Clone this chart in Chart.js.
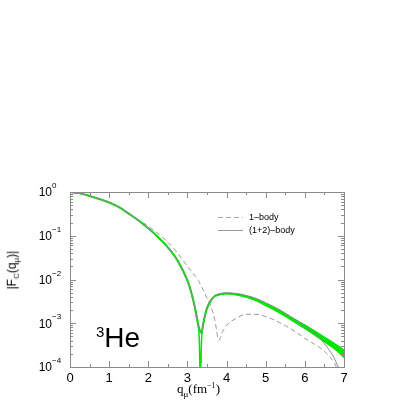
<!DOCTYPE html>
<html>
<head>
<meta charset="utf-8">
<script src="https://cdn.jsdelivr.net/npm/chart.js@4.4.0/dist/chart.umd.min.js"></script>
<style>
  body { margin: 0; background: #fff; }
  #wrap { position: relative; width: 415px; height: 415px; }
  .lbl { position: absolute; white-space: nowrap; color: #000; }
</style>
</head>
<body>
<div id="wrap">
  <canvas id="formFactor" width="415" height="415"></canvas>
  <div class="lbl" id="ytitle" style="left:-22px; top:262px; width:70px; text-align:center; font:12px 'Liberation Sans'; transform:rotate(-90deg);">|F<sub style="font-size:8px">C</sub>(q<sub style="font-size:8px">&mu;</sub>)|</div>
  <div class="lbl" style="left:177px; top:381px; font:13px 'Liberation Serif';">q<sub style="font-size:9px">&mu;</sub>(fm<sup style="font-size:8px">&minus;1</sup>)</div>
  <div class="lbl" style="left:96px; top:322px; font:28px 'Liberation Sans';"><sup style="font-size:15px">3</sup>He</div>
  <div class="lbl" style="left:249px; top:212px; font:9px 'Liberation Sans';">1&ndash;body</div>
  <div class="lbl" style="left:249px; top:225px; font:9px 'Liberation Sans';">(1+2)&ndash;body</div>
</div>
<script>
// q grid (fm^-1) shared by all curves
const qValues = [0, 0.25, 0.5, 0.75, 1, 1.25, 1.5, 1.75, 2, 2.25, 2.5, 2.75, 3, 3.1, 3.2, 3.25, 3.3, 3.33, 3.36, 3.4,
  3.5, 3.6, 3.7, 3.8, 3.9, 4, 4.25, 4.5, 4.75, 5, 5.25, 5.5, 5.75, 6, 6.25, 6.5, 6.75, 6.85, 7];

// 1-body (dashed)
const oneBody = [1.0, 0.93, 0.81, 0.69, 0.575, 0.45, 0.33, 0.235, 0.165, 0.112, 0.071, 0.040, 0.020, 0.0155, 0.0118, 0.0105, 0.009, 0.0076, 0.0068, 0.0059,
  0.0038, 0.0024, 0.0012, 0.00041, 0.00065, 0.0009, 0.0013, 0.0016, 0.0016, 0.00142, 0.00115, 0.00088, 0.00065, 0.00045, 0.00033, 0.00023, 0.000125, 0.00008, null];

// (1+2)-body (gray solid)
const twoBody = [1.0, 0.93, 0.81, 0.69, 0.575, 0.45, 0.32, 0.224, 0.148, 0.093, 0.054, 0.027, 0.0095, 0.005, 0.0021, 0.0012, 0.00076, 0.00065, 0.0006, 0.001,
  0.0023, 0.0034, 0.0043, 0.0047, 0.0049, 0.00495, 0.0048, 0.00435, 0.0037, 0.00295, 0.0023, 0.0017, 0.00122, 0.00086, 0.00059, 0.00034, 0.00016, 0.0001, null];

// green band, upper and lower edge
const bandHigh = [1.0, 0.93, 0.81, 0.69, 0.575, 0.45, 0.32, 0.224, 0.148, 0.093, 0.054, 0.027, 0.0095, 0.005, 0.0021, 0.0012, 0.00076, 0.00065, 0.0006, 0.00095,
  0.0022, 0.0033, 0.0042, 0.0045, 0.0047, 0.0048, 0.0046, 0.0041, 0.0035, 0.00275, 0.00215, 0.00162, 0.0012, 0.00089, 0.00065, 0.00047, 0.00034, 0.000295, 0.00024];
const bandLow = [1.0, 0.93, 0.81, 0.69, 0.575, 0.45, 0.32, 0.224, 0.148, 0.093, 0.054, 0.027, 0.0095, 0.005, 0.0021, 0.0012, null, null, null, null,
  0.0022, 0.0033, 0.0042, 0.0045, 0.0047, 0.0048, 0.0045, 0.00395, 0.0033, 0.00255, 0.00195, 0.00145, 0.00105, 0.00076, 0.00054, 0.00038, 0.000265, 0.000225, 0.000165];

// lower band edge through its zero near q = 3.33
const dipQ = [3.2, 3.25, 3.3, 3.33, 3.36, 3.4, 3.5];
const dipLow = [0.0021, 0.0012, 0.0005, 0.00005, 0.0004, 0.0009, 0.0022];

const xTicks = [0, 1, 2, 3, 4, 5, 6, 7];
const yTicks = [1, 1e-1, 1e-2, 1e-3, 1e-4];

const pts = (xs, arr) => xs.map((q, i) => ({ x: q, y: arr[i] }));

const GREEN = '#00e400';
const FRAME = '#8a8a8a';

// frame, inward ticks, y labels and legend samples
const framePlugin = {
    id: 'frame',
    afterDraw(chart) {
        const ctx = chart.ctx;
        const a = chart.chartArea;
        const xs = chart.scales.x, ys = chart.scales.y;
        ctx.save();
        ctx.strokeStyle = FRAME;
        ctx.lineWidth = 1;
        ctx.strokeRect(Math.round(a.left) + 0.5, Math.round(a.top) + 0.5, Math.round(a.right - a.left), Math.round(a.bottom - a.top));
        ctx.beginPath();
        // x ticks every 0.5, longer at integers
        for (let v = 0; v <= 7; v += 0.5) {
            const px = Math.round(xs.getPixelForValue(v)) + 0.5;
            const len = Number.isInteger(v) ? 6 : 3;
            ctx.moveTo(px, a.bottom); ctx.lineTo(px, a.bottom - len);
            ctx.moveTo(px, a.top); ctx.lineTo(px, a.top + len);
        }
        // log y ticks
        for (let d = -4; d <= 0; d++) {
            for (let m = 1; m <= 9; m++) {
                const v = m * Math.pow(10, d);
                if (v > 1) break;
                const py = Math.round(ys.getPixelForValue(v)) + 0.5;
                const len = m === 1 ? 6 : 3;
                ctx.moveTo(a.left, py); ctx.lineTo(a.left + len, py);
                ctx.moveTo(a.right, py); ctx.lineTo(a.right - len, py);
            }
        }
        ctx.stroke();

        // y tick labels 10^n
        ctx.fillStyle = '#000';
        ctx.textBaseline = 'middle';
        yTicks.forEach(v => {
            const py = ys.getPixelForValue(v);
            const exp = String(Math.round(Math.log10(v))).replace('-', '\u2212');
            ctx.font = "8px 'Liberation Sans'";
            ctx.textAlign = 'left';
            ctx.fillText(exp, 52, py - 6);
            ctx.font = "12px 'Liberation Sans'";
            ctx.textAlign = 'right';
            ctx.fillText('10', 52, py + 1);
        });

        // legend line samples
        ctx.strokeStyle = '#aaa';
        ctx.setLineDash([5, 3]);
        ctx.beginPath();
        ctx.moveTo(218, 217.5); ctx.lineTo(243, 217.5);
        ctx.stroke();
        ctx.setLineDash([]);
        ctx.strokeStyle = '#999';
        ctx.beginPath();
        ctx.moveTo(218, 230.5); ctx.lineTo(243, 230.5);
        ctx.stroke();
        ctx.restore();
    }
};

new Chart(document.getElementById('formFactor'), {
    type: 'line',
    data: {
        datasets: [
            { label: '(1+2)-body', data: pts(qValues, twoBody), borderColor: '#8c8c8c', borderWidth: 1, order: 1 },
            { label: '1-body', data: pts(qValues, oneBody), borderColor: '#9a9a9a', borderWidth: 1, borderDash: [5, 3], order: 2 },
            { label: 'band high', data: pts(qValues, bandHigh), borderColor: GREEN, borderWidth: 2, order: 3 },
            { label: 'band low', data: pts(qValues, bandLow), borderColor: GREEN, borderWidth: 1.5, fill: '-1', backgroundColor: GREEN, order: 4 },
            { label: 'band low dip', data: pts(dipQ, dipLow), borderColor: GREEN, borderWidth: 1.5, order: 5 }
        ]
    },
    options: {
        responsive: false,
        animation: false,
        layout: { padding: { left: 70, right: 71, top: 192, bottom: 0 } },
        elements: {
            point: { radius: 0 },
            line: { cubicInterpolationMode: 'monotone' }
        },
        scales: {
            x: {
                type: 'linear', min: 0, max: 7,
                grid: { display: false, drawTicks: false }, border: { display: false },
                afterBuildTicks: s => { s.ticks = xTicks.map(v => ({ value: v })); },
                ticks: { color: '#000', padding: 4, maxRotation: 0, font: { family: 'Liberation Sans', size: 13 } },
                afterFit: s => { s.height = 48; }
            },
            y: {
                type: 'logarithmic', min: 1e-4, max: 1,
                grid: { display: false }, border: { display: false },
                ticks: { display: false },
                afterFit: s => { s.width = 0; }
            }
        },
        plugins: { legend: { display: false }, tooltip: { enabled: false } }
    },
    plugins: [framePlugin]
});
</script>
</body>
</html>
